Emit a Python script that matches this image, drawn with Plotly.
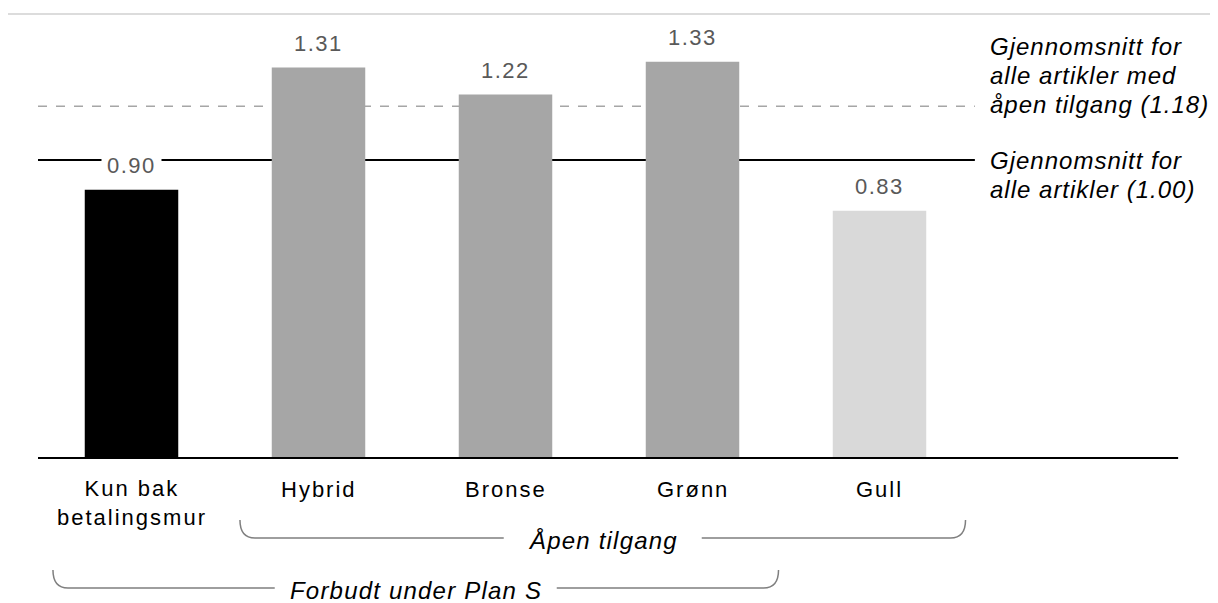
import plotly.graph_objects as go

categories = ["Kun bak<br>betalingsmur", "Hybrid", "Bronse", "Grønn", "Gull"]
values = [0.90, 1.31, 1.22, 1.33, 0.83]
value_labels = ["0.90", "1.31", "1.22", "1.33", "0.83"]
bar_colors = ["#000000", "#a6a6a6", "#a6a6a6", "#a6a6a6", "#d9d9d9"]

avg_all = 1.00
avg_open = 1.18
avg_all_lines = ["Gjennomsnitt for", "alle artikler (1.00)"]
avg_open_lines = ["Gjennomsnitt for", "alle artikler med", "åpen tilgang (1.18)"]

groups = [
    {"label": "Åpen tilgang", "first": 1, "last": 4, "level": 1, "half_gap_px": 99},
    {"label": "Forbudt under Plan S", "first": 0, "last": 3, "level": 2, "half_gap_px": 141},
]

# the page has an 8px body margin; figure covers page pixels 8..1218 x 8..603
OFF = 8
W, H = 1218 - OFF, 603 - OFF
X0_PX, X_STEP_PX = 131.5, 187.0   # page px of first category, px per category
Y0_PX, Y_UNIT_PX = 458.0, 298.0    # page px of baseline, px per unit
X_RANGE = [(OFF - X0_PX) / X_STEP_PX, (1218 - X0_PX) / X_STEP_PX]
Y_RANGE = [(Y0_PX - 603) / Y_UNIT_PX, (Y0_PX - OFF) / Y_UNIT_PX]
px_x = 1 / X_STEP_PX
px_y = 1 / Y_UNIT_PX

FONT = "Liberation Sans, Arial, sans-serif"


def spaced(t, ls):
    return "<br>".join(f'<span style="letter-spacing:{ls}px">{p}</span>' for p in t.split("<br>"))


x_idx = list(range(len(categories)))

fig = go.Figure()
fig.add_trace(go.Bar(
    x=x_idx, y=values, width=0.5,
    marker=dict(color=bar_colors, line=dict(width=0)),
    hoverinfo="skip", showlegend=False,
))

shapes = []
annotations = []

# top thin gray line
shapes.append(dict(type="line", xref="paper", yref="y", x0=0, x1=1, y0=1.49, y1=1.49,
                   line=dict(color="#d0d0d0", width=1.5)))
# reference lines
x_left = -0.5
x_ref_end = 4.51
shapes.append(dict(type="line", xref="x", yref="y", x0=x_left, x1=x_ref_end, y0=avg_open, y1=avg_open,
                   line=dict(color="#a6a6a6", width=1.5, dash="dash"), layer="below"))
shapes.append(dict(type="line", xref="x", yref="y", x0=x_left, x1=x_ref_end, y0=avg_all, y1=avg_all,
                   line=dict(color="#000000", width=2), layer="below"))
# baseline
shapes.append(dict(type="line", xref="x", yref="y", x0=x_left, x1=5.597, y0=0, y1=0,
                   line=dict(color="#000000", width=2)))

# group brackets
for g in groups:
    x0 = g["first"] - 0.42
    x1 = g["last"] + 0.46
    yb = -(80 if g["level"] == 1 else 130) * px_y
    yt = yb + 18 * px_y
    dx = 15 * px_x
    xm = (x0 + x1) / 2
    hg = g["half_gap_px"] * px_x
    left = f"M {x0},{yt} Q {x0},{yb} {x0 + dx},{yb} L {xm - hg},{yb}"
    right = f"M {xm + hg},{yb} L {x1 - dx},{yb} Q {x1},{yb} {x1},{yt}"
    for p in (left, right):
        shapes.append(dict(type="path", xref="x", yref="y", path=p,
                           line=dict(color="#7f7f7f", width=1.5)))
    ann = dict(x=xm, y=yb, xref="x", yref="y", text=f"<i>{spaced(g['label'], 1.2)}</i>",
               showarrow=False, yanchor="middle", xanchor="center", yshift=-2,
               font=dict(family=FONT, size=24, color="#000000"))
    if g["level"] == 2:
        ann.update(height=24, borderpad=0)
    annotations.append(ann)

# value labels
for i, (v, lab) in enumerate(zip(values, value_labels)):
    annotations.append(dict(x=i, y=v, xref="x", yref="y", text=spaced(lab, 1.5), showarrow=False,
                            yanchor="middle", xanchor="center", yshift=24,
                            font=dict(family=FONT, size=22, color="#595959"),
                            bgcolor="#ffffff", borderpad=5))

# category labels
for i, c in enumerate(categories):
    nlines = c.count("<br>") + 1
    ycen = -(31 + 28 * (nlines - 1) / 2) * px_y
    annotations.append(dict(x=i, y=ycen, xref="x", yref="y", text=spaced(c, 2), showarrow=False,
                            yanchor="middle", xanchor="center",
                            font=dict(family=FONT, size=22, color="#000000")))

# right-hand reference labels
x_txt = (988 - X0_PX) / X_STEP_PX
line_gap = 29 * px_y
for block, yc in ((avg_open_lines, 1.282), (avg_all_lines, 0.951)):
    n = len(block)
    for k, t in enumerate(block):
        yy = yc + ((n - 1) / 2 - k) * line_gap
        annotations.append(dict(x=x_txt, y=yy, xref="x", yref="y", text=f"<i>{spaced(t, 1.0)}</i>",
                                showarrow=False, yanchor="middle", xanchor="left",
                                font=dict(family=FONT, size=24, color="#000000")))

fig.update_layout(
    width=W, height=H,
    margin=dict(l=0, r=0, t=0, b=0),
    paper_bgcolor="#ffffff", plot_bgcolor="#ffffff",
    xaxis=dict(range=X_RANGE, visible=False, fixedrange=True),
    yaxis=dict(range=Y_RANGE, visible=False, fixedrange=True),
    shapes=shapes, annotations=annotations,
    showlegend=False,
)

fig.write_html("out.html")
